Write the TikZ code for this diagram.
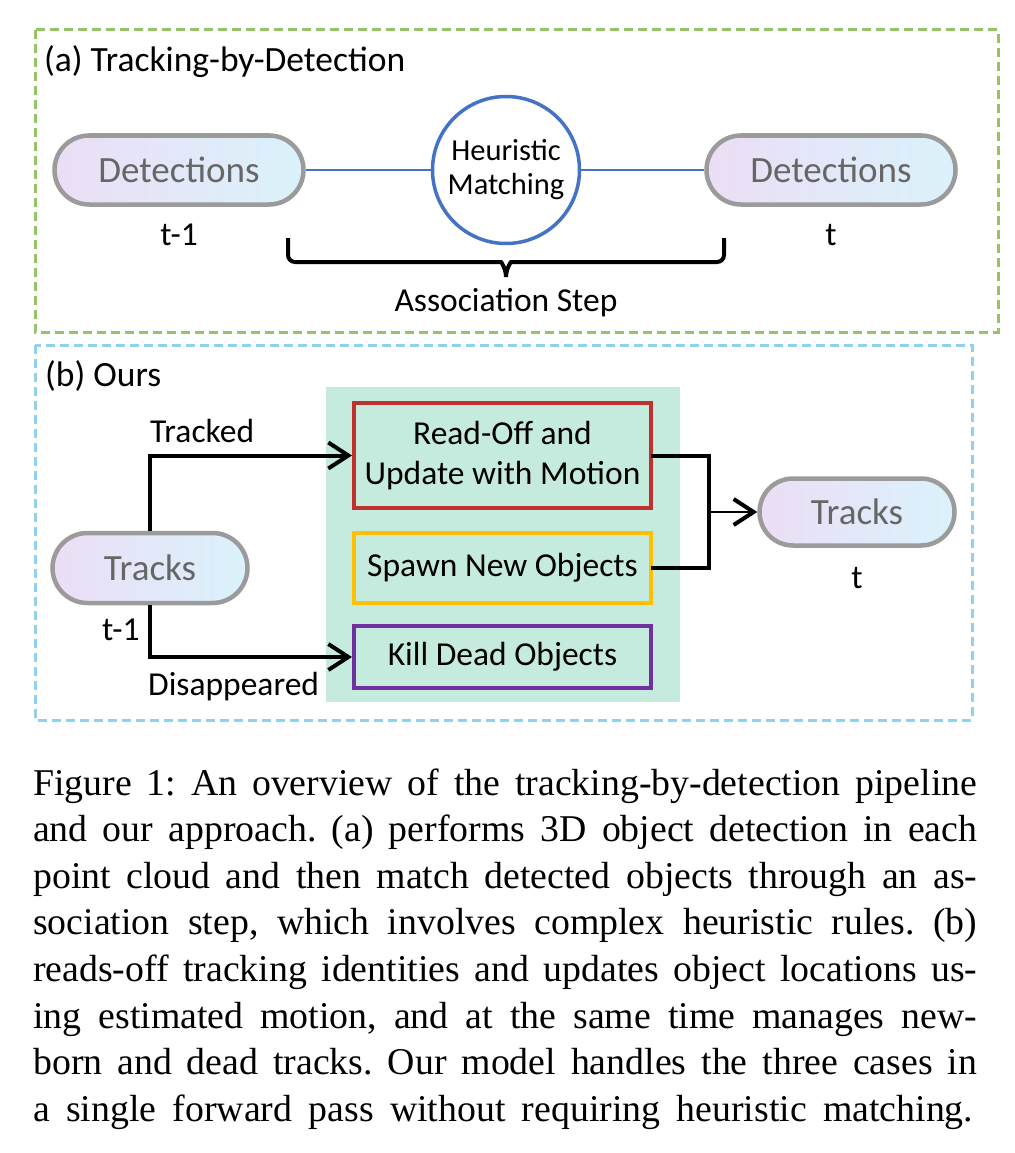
\documentclass[tikz,border=0pt]{standalone}
\usepackage{fontspec}
\setmainfont{Carlito}
\newfontfamily\capfont{Liberation Serif}
\usetikzlibrary{shapes.misc,arrows.meta}
\definecolor{dgreen}{RGB}{147,196,103}
\definecolor{dblue}{RGB}{142,209,240}
\definecolor{pillL}{RGB}{236,222,245}
\definecolor{pillR}{RGB}{218,242,251}
\definecolor{pillB}{RGB}{155,155,155}
\definecolor{pillT}{RGB}{102,102,102}
\definecolor{matchB}{RGB}{68,114,196}
\definecolor{bgG}{RGB}{196,235,222}
\definecolor{rboxC}{RGB}{192,48,45}
\definecolor{yboxC}{RGB}{255,192,0}
\definecolor{pboxC}{RGB}{112,48,160}
\tikzset{
  pill/.style={rounded rectangle, draw=pillB, line width=4.5pt, left color=pillL, right color=pillR,
    text=pillT, font=\fontsize{37}{41}\selectfont, minimum height=69pt, inner sep=0pt},
  panel/.style={line width=3pt, dash pattern=on 9pt off 5pt},
  ttl/.style={font=\fontsize{35.5}{40}\selectfont, inner sep=0pt},
  lbl/.style={font=\fontsize{33.5}{38}\selectfont, inner sep=0pt},
  opbox/.style={draw, line width=4pt, fill=bgG, minimum width=297pt, inner sep=0pt,
    font=\fontsize{33.5}{40}\selectfont, align=center},
  flow/.style={line width=4pt},
  arr/.style={flow, -{Straight Barb[length=20pt,width=26pt,line width=4pt]}},
  matchline/.style={draw=matchB, line width=2.5pt},
  capline/.style={anchor=base west, inner sep=0pt, font=\capfont\fontsize{37.8}{46.6}\selectfont},
}
\begin{document}
\frenchspacing
\begin{tikzpicture}[x=1pt,y=-1pt]
\useasboundingbox (0,0) rectangle (1014,1153);
% panel (a)
\draw[panel, draw=dgreen] (35,30) rectangle (998,332);
\node[ttl, anchor=base west] (titleA) at (44,72) {(a) Tracking-by-Detection};
\node[pill, minimum width=249pt] (detL) at (179,170) {Detections};
\node[pill, minimum width=249pt] (detR) at (831,170) {Detections};
\node[circle, draw=matchB, line width=3.5pt, minimum size=147pt, inner sep=0pt, align=center,
  font=\fontsize{30.5}{34}\selectfont] (hm) at (506,170) {Heuristic\\Matching};
\draw[matchline] (detL.east) -- (hm.west);
\draw[matchline] (hm.east) -- (detR.west);
\node[lbl, anchor=base] (tL) at (179,245) {t-1};
\node[lbl, anchor=base] (tR) at (831,245) {t};
\coordinate (bL) at (288,238);
\coordinate (bR) at (724,238);
\coordinate (bM) at (506,277);
\draw[flow, rounded corners=7pt] (bL) -- (288,262) -- (494,262) to[out=0,in=90] (bM);
\draw[flow, rounded corners=7pt] (bR) -- (724,262) -- (518,262) to[out=180,in=90] (bM);
\node[lbl, anchor=base] (assoc) at (506,311) {Association Step};
% panel (b)
\draw[panel, draw=dblue] (35,345) rectangle (972,720);
\node[ttl, anchor=base west] (titleB) at (45,386) {(b) Ours};
\fill[bgG] (326,387) rectangle (680,702);
\node[opbox, draw=rboxC, minimum height=105pt] (rbox) at (502.5,455.5) {Read-Off and\\Update with Motion};
\node[opbox, draw=yboxC, minimum height=70pt] (ybox) at (502.5,568) {Spawn New Objects};
\node[opbox, draw=pboxC, minimum height=62pt] (pbox) at (502.5,657) {Kill Dead Objects};
\node[pill, minimum width=195pt, minimum height=70pt] (trk) at (150,568) {Tracks};
\node[pill, minimum width=195pt, minimum height=67pt] (trkT) at (857,512) {Tracks};
\node[lbl, anchor=base west] (trkLbl) at (102,640) {t-1};
\node[lbl, anchor=base] (trkTLbl) at (857,588) {t};
\draw[arr] (trk.north) |- (rbox.west);
\draw[arr] (trk.south) |- (pbox.west);
\node[lbl, anchor=base west] (tracked) at (150,442) {Tracked};
\node[lbl, anchor=base west] (disap) at (148,695) {Disappeared};
\draw[flow, line cap=rect] (rbox.east) -- ++(56,0) coordinate (m1) |- (ybox.east);
\draw[line width=2.5pt, -{Straight Barb[length=20pt,width=26pt,line width=4pt]}] (m1 |- trkT.west) -- (trkT.west);
% caption
\node[capline] (c1) at (33,795) {\makebox[944pt][s]{Figure 1: An overview of the tracking-by-detection pipeline}};
\node[capline] (c2) at (33,841.6) {\makebox[944pt][s]{and our approach. (a) performs 3D object detection in each}};
\node[capline] (c3) at (33,888.2) {\makebox[944pt][s]{point cloud and then match detected objects through an as-}};
\node[capline] (c4) at (33,934.8) {\makebox[944pt][s]{sociation step, which involves complex heuristic rules. (b)}};
\node[capline] (c5) at (33,981.4) {\makebox[944pt][s]{reads-off tracking identities and updates object locations us-}};
\node[capline] (c6) at (33,1028) {\makebox[944pt][s]{ing estimated motion, and at the same time manages new-}};
\node[capline] (c7) at (33,1074.6) {\makebox[944pt][s]{born and dead tracks. Our model handles the three cases in}};
\node[capline] (c8) at (33,1121.2) {\makebox[940pt][s]{a single forward pass without requiring heuristic matching.}};
\end{tikzpicture}
\end{document}
